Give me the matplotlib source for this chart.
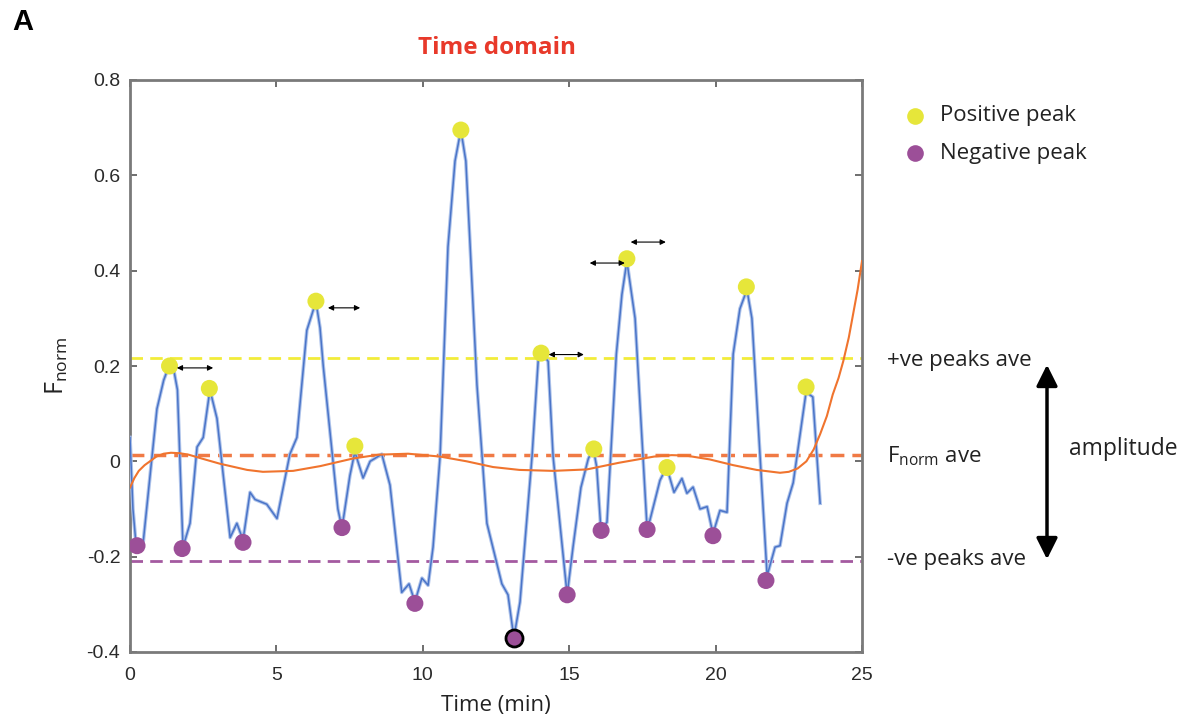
import matplotlib
matplotlib.use("Agg")
import matplotlib.pyplot as plt

# ---------------- data ----------------
time_min = [0.0, 0.1, 0.2, 0.45, 0.92, 1.15, 1.33, 1.5, 1.62, 1.81, 2.05, 2.29, 2.5, 2.73, 2.97,
            3.42, 3.65, 3.86, 4.1, 4.27, 4.67, 5.02, 5.46, 5.7, 6.04, 6.35, 6.49, 6.6, 7.1, 7.24,
            7.51, 7.68, 7.96, 8.2, 8.6, 8.88, 9.28, 9.53, 9.73, 9.97, 10.18, 10.35, 10.59, 10.86,
            11.1, 11.3, 11.47, 11.61, 11.85, 12.19, 12.7, 12.91, 13.11, 13.32, 13.73, 13.94, 14.05,
            14.28, 14.45, 14.93, 15.13, 15.4, 15.65, 15.82, 15.94, 16.08, 16.29, 16.61, 16.8, 16.97,
            17.25, 17.65, 17.75, 18.1, 18.33, 18.58, 18.85, 19.02, 19.23, 19.47, 19.71, 19.91, 20.15,
            20.39, 20.6, 20.83, 21.07, 21.24, 21.76, 22.03, 22.2, 22.44, 22.65, 23.09, 23.32, 23.57]
f_norm = [0.05, -0.10, -0.17, -0.17, 0.11, 0.17, 0.20, 0.19, 0.15, -0.18, -0.13, 0.03, 0.05, 0.15, 0.09,
          -0.16, -0.13, -0.165, -0.065, -0.08, -0.09, -0.12, 0.015, 0.05, 0.275, 0.335, 0.28, 0.20, -0.10, -0.14,
          -0.03, 0.02, -0.035, 0.0, 0.015, -0.05, -0.275, -0.257, -0.295, -0.245, -0.26, -0.18, 0.01, 0.45,
          0.63, 0.695, 0.63, 0.46, 0.16, -0.13, -0.257, -0.28, -0.37, -0.295, 0.01, 0.21, 0.227,
          0.21, 0.01, -0.28, -0.18, -0.055, 0.005, 0.027, -0.012, -0.14, -0.128, 0.225, 0.35, 0.42,
          0.30, -0.13, -0.125, -0.04, -0.012, -0.065, -0.036, -0.067, -0.054, -0.10, -0.095, -0.152, -0.103,
          -0.107, 0.225, 0.32, 0.36, 0.30, -0.24, -0.18, -0.177, -0.088, -0.045, 0.145, 0.135, -0.088]

trend_t = [0.0, 0.15, 0.3, 0.5, 0.68, 0.9, 1.15, 1.4, 1.7, 2.0, 2.5, 3.07, 4.0, 4.54, 5.57, 6.5,
           7.62, 8.5, 9.5, 10.59, 11.5, 12.4, 13.3, 14.45, 15.6, 16.7, 17.9, 18.5, 19.0, 19.8, 20.6,
           21.4, 22.2, 22.5, 22.8, 23.1, 23.35, 23.57, 23.8, 24.0, 24.2, 24.36, 24.55, 24.7, 24.85, 25.0]
trend_y = [-0.055, -0.035, -0.02, -0.008, 0.0, 0.01, 0.016, 0.018, 0.017, 0.014, 0.005, -0.005,
           -0.018, -0.022, -0.02, -0.01, 0.006, 0.014, 0.016, 0.01, 0.0, -0.012, -0.018, -0.02, -0.017,
           -0.003, 0.01, 0.013, 0.012, 0.004, -0.008, -0.018, -0.024, -0.022, -0.015, 0.0, 0.025, 0.057,
           0.095, 0.14, 0.175, 0.21, 0.26, 0.31, 0.36, 0.42]

pos_peak_t = [1.35, 2.71, 6.35, 7.68, 11.3, 14.04, 15.84, 16.97, 18.34, 21.05, 23.09]
pos_peak_y = [0.20, 0.153, 0.336, 0.032, 0.695, 0.227, 0.026, 0.425, -0.013, 0.366, 0.156]
neg_peak_t = [0.24, 1.78, 3.86, 7.24, 9.73, 13.11, 14.93, 16.09, 17.66, 19.91, 21.72]
neg_peak_y = [-0.177, -0.183, -0.17, -0.139, -0.298, -0.37, -0.28, -0.145, -0.143, -0.156, -0.25]
highlight_index = 5

pos_ave = 0.217
f_ave = 0.013
neg_ave = -0.21

# period arrows: (t_start, t_end, y)
period_arrows = [(1.6, 2.84, 0.196), (6.76, 7.86, 0.322), (14.3, 15.5, 0.224),
                 (15.7, 16.9, 0.416), (17.1, 18.3, 0.46)]

x_ticks = [0, 5, 10, 15, 20, 25]
y_ticks = [-0.4, -0.2, 0, 0.2, 0.4, 0.6, 0.8]
y_tick_labels = ["-0.4", "-0.2", "0", "0.2", "0.4", "0.6", "0.8"]

# ---------------- style ----------------
plt.rcParams['font.family'] = ['Liberation Sans', 'DejaVu Sans']
plt.rcParams['mathtext.fontset'] = 'custom'
plt.rcParams['mathtext.rm'] = 'Open Sans'

W, H = 1192, 724
fig = plt.figure(figsize=(W / 100, H / 100), dpi=100)
ax = fig.add_axes([130 / W, 1 - 652 / H, (862 - 130) / W, (652 - 80) / H])

YELLOW = '#e6e63a'
PURPLE = '#9c4f98'
BLUE = '#4a74c8'
ORANGE = '#f0742e'
TXT = '#222222'

ax.axhline(pos_ave, color='#f2ec3a', lw=2, ls=(0, (4.5, 2.6)), zorder=2)
ax.axhline(f_ave, color='#f07a45', lw=2.5, ls=(0, (4.0, 2.3)), zorder=2)
ax.axhline(neg_ave, color='#a45aa0', lw=2, ls=(0, (4.5, 2.6)), zorder=2)

ax.plot(time_min, f_norm, color='#aec3ea', lw=2.6, zorder=3, solid_joinstyle='round')
ax.plot(time_min, f_norm, color=BLUE, lw=1.1, zorder=3.1)
ax.plot(trend_t, trend_y, color=ORANGE, lw=1.5, zorder=3.2)

ax.scatter(pos_peak_t, pos_peak_y, s=150, color=YELLOW, edgecolors='none', zorder=5)
ax.scatter(neg_peak_t, neg_peak_y, s=150, color=PURPLE, edgecolors='none', zorder=5)
ax.scatter([neg_peak_t[highlight_index]], [neg_peak_y[highlight_index]], s=150, color=PURPLE,
           edgecolors='black', linewidths=2, zorder=6)

for t0, t1, yy in period_arrows:
    ax.annotate('', xy=(t1, yy), xytext=(t0, yy),
                arrowprops=dict(arrowstyle='<|-|>', color='black', lw=0.8, mutation_scale=8,
                                shrinkA=0, shrinkB=0), zorder=6)

ax.set_xlim(0, 25)
ax.set_ylim(-0.4, 0.8)
ax.set_xticks(x_ticks)
ax.set_yticks(y_ticks)
ax.set_yticklabels(y_tick_labels)
ax.tick_params(direction='in', top=True, right=True, length=5, width=1.2, color='#555555',
               labelsize=14, labelcolor='#2a2a2a')
ax.tick_params(axis='y', pad=7)
ax.tick_params(axis='x', pad=11)
for sp in ax.spines.values():
    sp.set_color('#7a7a7a')
    sp.set_linewidth(2)

ax.set_xlabel('Time (min)', fontsize=16, family='Open Sans', labelpad=8, color=TXT)
ax.set_ylabel(r'$\mathrm{F}_{\mathrm{norm}}$', fontsize=18, labelpad=12, color=TXT)

def fx(px):
    return px / W

def fy(py):
    return 1 - py / H

fig.text(fx(12), fy(22), 'A', fontsize=21, fontweight='bold', va='center', ha='left')
fig.text(fx(497), fy(48), 'Time domain', fontsize=17.5, fontweight='bold', color='#e8392a',
         family='Open Sans', ha='center', va='center')

# legend
fig.add_artist(plt.Line2D([fx(915)], [fy(116)], marker='o', ms=12, color=YELLOW, mec='none',
                          transform=fig.transFigure))
fig.add_artist(plt.Line2D([fx(915)], [fy(153)], marker='o', ms=12, color=PURPLE, mec='none',
                          transform=fig.transFigure))
fig.text(fx(940), fy(116), 'Positive peak', fontsize=16, family='Open Sans', va='center', color=TXT)
fig.text(fx(940), fy(153), 'Negative peak', fontsize=16, family='Open Sans', va='center', color=TXT)

fig.text(fx(887), fy(360), '+ve peaks ave', fontsize=16, family='Open Sans', va='center', color=TXT)
fig.text(fx(887), fy(456), r'$\mathrm{F}_{\mathrm{norm}}$ ave', fontsize=16, family='Open Sans',
         va='center', color=TXT)
fig.text(fx(887), fy(560), '-ve peaks ave', fontsize=16, family='Open Sans', va='center', color=TXT)
fig.text(fx(1069), fy(449), 'amplitude', fontsize=16.5, family='Open Sans', va='center', color=TXT)

fig.add_artist(matplotlib.patches.FancyArrowPatch(
    (fx(1047), fy(362)), (fx(1047), fy(562)), transform=fig.transFigure,
    arrowstyle='<|-|>', mutation_scale=32, lw=2.5, color='black'))

fig.savefig('out.png', dpi=100)
